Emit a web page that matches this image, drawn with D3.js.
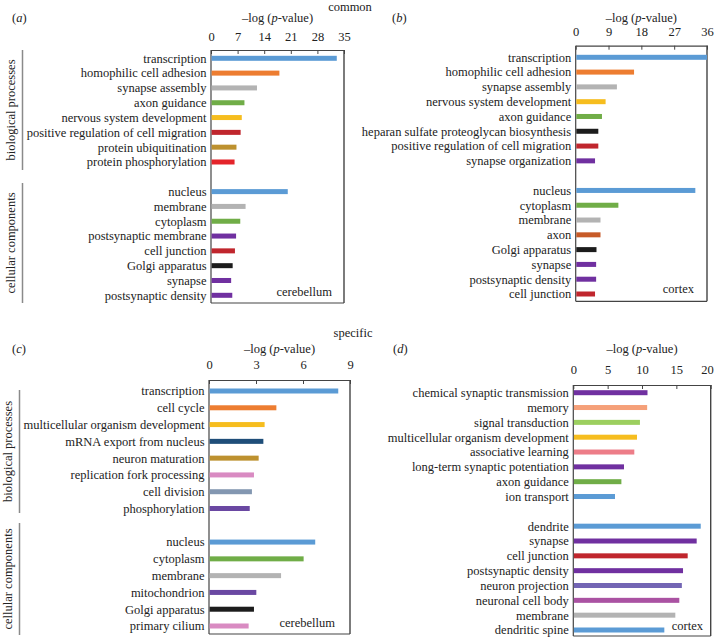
<!DOCTYPE html>
<html>
<head>
<meta charset="utf-8">
<script src="https://cdn.jsdelivr.net/npm/d3@7/dist/d3.min.js"></script>
<style>
  html, body { margin: 0; padding: 0; background: #fff; }
  svg text { font-family: "Liberation Serif", "Times New Roman", serif; fill: #222; }
</style>
</head>
<body>
<svg id="chart" width="715" height="638"></svg>
<script>
// ---------------- data ----------------
const aCategories = ["transcription","homophilic cell adhesion","synapse assembly","axon guidance","nervous system development","positive regulation of cell migration","protein ubiquitination","protein phosphorylation","",
  "nucleus","membrane","cytoplasm","postsynaptic membrane","cell junction","Golgi apparatus","synapse","postsynaptic density"];
const aValues = [33.1,18.0,12.1,8.8,8.1,7.8,6.7,6.2,null,20.2,9.1,7.7,6.6,6.3,5.7,5.3,5.6];
const aTicks = [0,7,14,21,28,35];

const bCategories = ["transcription","homophilic cell adhesion","synapse assembly","nervous system development","axon guidance","heparan sulfate proteoglycan biosynthesis","positive regulation of cell migration","synapse organization","",
  "nucleus","cytoplasm","membrane","axon","Golgi apparatus","synapse","postsynaptic density","cell junction"];
const bValues = [36.0,16.0,11.3,8.2,7.2,6.2,6.2,5.3,null,32.8,11.7,6.8,6.8,5.7,5.6,5.6,5.3];
const bTicks = [0,9,18,27,36];

const cCategories = ["transcription","cell cycle","multicellular organism development","mRNA export from nucleus","neuron maturation","replication fork processing","cell division","phosphorylation","",
  "nucleus","cytoplasm","membrane","mitochondrion","Golgi apparatus","primary cilium"];
const cValues = [8.25,4.3,3.55,3.47,3.17,2.87,2.74,2.6,null,6.78,6.04,4.6,3.02,2.87,2.53];
const cTicks = [0,3,6,9];

const dCategories = ["chemical synaptic transmission","memory","signal transduction","multicellular organism development","associative learning","long-term synaptic potentiation","axon guidance","ion transport","",
  "dendrite","synapse","cell junction","postsynaptic density","neuron projection","neuronal cell body","membrane","dendritic spine"];
const dValues = [10.8,10.75,9.7,9.27,8.88,7.38,7.0,6.07,null,18.55,17.96,16.65,15.97,15.8,15.43,14.85,13.25];
const dTicks = [0,5,10,15,20];

const groupLabels = ["biological processes","cellular components"];
const sectionTitles = ["common","specific"];
const tissueLabels = ["cerebellum","cortex","cerebellum","cortex"];
const panelLetters = ["a","b","c","d"];

// ---------------- colours ----------------
const C = {
  blue:"#5b9bd5", orange:"#ed7d31", gray:"#b3b3b3", green:"#70ad47", yellow:"#f6bd1e",
  darkred:"#c0262d", golden:"#bd912f", red:"#e4242a", purple:"#7030a0", black:"#1c1c1c",
  rust:"#c75b28", navy:"#1f4e79", pink:"#d98bc2", slate:"#8397b1", violet:"#6a48a2",
  salmon:"#f5a079", lgreen:"#9ccf5f", rose:"#ed7d88", periw:"#7365b4", magenta:"#aa52a2"
};
const aColors = [C.blue,C.orange,C.gray,C.green,C.yellow,C.darkred,C.golden,C.red,null,C.blue,C.gray,C.green,C.purple,C.darkred,C.black,C.purple,C.purple];
const bColors = [C.blue,C.orange,C.gray,C.yellow,C.green,C.black,C.darkred,C.purple,null,C.blue,C.green,C.gray,C.rust,C.black,C.purple,C.purple,C.darkred];
const cColors = [C.blue,C.orange,C.yellow,C.navy,C.golden,C.pink,C.slate,C.violet,null,C.blue,C.green,C.gray,C.violet,C.black,C.pink];
const dColors = [C.purple,C.salmon,C.lgreen,C.yellow,C.rose,C.purple,C.green,C.blue,null,C.blue,C.purple,C.darkred,C.purple,C.periw,C.magenta,C.gray,C.blue];

// ---------------- layout ----------------
const FS = 12.5;
const panels = [
  {cats:aCategories, vals:aValues, cols:aColors, ticks:aTicks, x0:211, x1:344, axisY:50, first:58.3, last:295.3, bottom:303, tickPad:9,
   letterX:12, titleY:22, tissueX:332, tissueY:296, brackets:{lineX:22.5, textX:15, bio:[50,170], cell:[183,303]}},
  {cats:bCategories, vals:bValues, cols:bColors, ticks:bTicks, x0:575.7, x1:707, axisY:45.7, first:57.3, last:294, bottom:301.3, tickPad:9.5,
   letterX:392, titleY:22, tissueX:694, tissueY:293},
  {cats:cCategories, vals:cValues, cols:cColors, ticks:cTicks, x0:209, x1:350, axisY:380, first:391, last:626, bottom:634, tickPad:11,
   letterX:12, titleY:353, tissueX:335, tissueY:627, brackets:{lineX:19.5, textX:11.5, bio:[390,513], cell:[523,635]}},
  {cats:dCategories, vals:dValues, cols:dColors, ticks:dTicks, x0:573.3, x1:710.7, axisY:385, first:392.7, last:630, bottom:636, tickPad:11,
   letterX:393, titleY:353, tissueX:703, tissueY:630}
];

const svg = d3.select("#chart");

// section titles
svg.append("text").attr("x", 350).attr("y", 11).attr("text-anchor","middle").attr("font-size",FS).text(sectionTitles[0]);
svg.append("text").attr("x", 353).attr("y", 337).attr("text-anchor","middle").attr("font-size",FS).text(sectionTitles[1]);

panels.forEach((p, pi) => {
  const g = svg.append("g");
  const x = d3.scaleLinear().domain([p.ticks[0], p.ticks[p.ticks.length-1]]).range([p.x0, p.x1]);
  const n = p.cats.length;
  const step = (p.last - p.first) / (n - 1);
  const ids = d3.range(n);
  const y = d3.scaleBand().domain(ids).range([p.first - step/2, p.last + step/2]).padding(0);
  const barH = 5;

  // panel letter
  const lt = g.append("text").attr("x", p.letterX).attr("y", p.titleY).attr("font-size", FS);
  lt.append("tspan").text("(");
  lt.append("tspan").attr("font-style","italic").text(panelLetters[pi]);
  lt.append("tspan").text(")");

  // axis title
  const at = g.append("text").attr("x", (p.x0 + p.x1)/2).attr("y", p.titleY).attr("text-anchor","middle").attr("font-size", FS);
  at.append("tspan").text("\u2013log (");
  at.append("tspan").attr("font-style","italic").text("p");
  at.append("tspan").text("-value)");

  // axis
  const axis = d3.axisTop(x).tickValues(p.ticks).tickSizeInner(-4).tickSizeOuter(0).tickPadding(p.tickPad).tickFormat(d3.format("d"));
  const ag = g.append("g").attr("transform", `translate(0,${p.axisY})`).call(axis);
  ag.select(".domain").attr("stroke", "#444").attr("stroke-width", 1.2);
  ag.selectAll(".tick line").attr("stroke", "#444").attr("stroke-width", 1);
  ag.selectAll(".tick text").attr("font-size", FS).attr("font-family", "Liberation Serif, serif").attr("fill", "#222")
    .attr("dx", d => (x(d) + 7 > 715 ? -(x(d) + 7 - 714) : 0));

  // frame
  g.append("line").attr("x1", p.x0).attr("x2", p.x0).attr("y1", p.axisY).attr("y2", p.bottom).attr("stroke", "#444").attr("stroke-width", 1.2);
  g.append("line").attr("x1", p.x1).attr("x2", p.x1).attr("y1", p.axisY).attr("y2", p.bottom).attr("stroke", "#444").attr("stroke-width", 1.4);
  g.append("line").attr("x1", p.x0).attr("x2", p.x1).attr("y1", p.bottom).attr("y2", p.bottom).attr("stroke", "#444").attr("stroke-width", 1.2);

  // bars
  const rows = ids.filter(i => p.vals[i] !== null);
  g.selectAll("rect.bar").data(rows).enter().append("rect")
    .attr("class","bar")
    .attr("x", x(0) + 0.6)
    .attr("y", i => y(i) + y.bandwidth()/2 - barH/2)
    .attr("width", i => Math.max(0, x(p.vals[i]) - x(0) - 0.6))
    .attr("height", barH)
    .attr("fill", i => p.cols[i]);

  // category labels
  g.selectAll("text.cat").data(rows).enter().append("text")
    .attr("class","cat")
    .attr("x", p.x0 - 4.5)
    .attr("y", i => y(i) + y.bandwidth()/2)
    .attr("dy", "0.35em")
    .attr("text-anchor","end")
    .attr("font-size", FS)
    .text(i => p.cats[i]);

  // tissue label
  g.append("text").attr("x", p.tissueX).attr("y", p.tissueY).attr("text-anchor","end").attr("font-size", FS).text(tissueLabels[pi]);

  // group brackets
  if (p.brackets) {
    const b = p.brackets;
    [b.bio, b.cell].forEach((rng, k) => {
      g.append("line").attr("x1", b.lineX).attr("x2", b.lineX).attr("y1", rng[0]).attr("y2", rng[1])
        .attr("stroke", "#8a8a8a").attr("stroke-width", 1.5);
      const cy = (rng[0] + rng[1]) / 2;
      g.append("text").attr("transform", `translate(${b.textX},${cy}) rotate(-90)`)
        .attr("text-anchor","middle").attr("font-size", FS).text(groupLabels[k]);
    });
  }
});
</script>
</body>
</html>
